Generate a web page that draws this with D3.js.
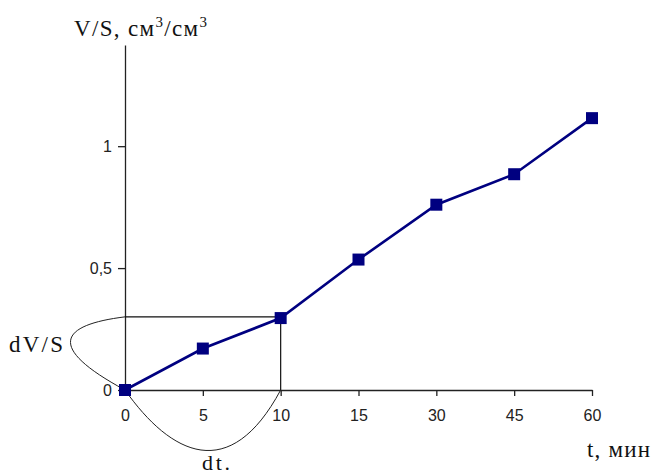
<!DOCTYPE html>
<html>
<head>
<meta charset="utf-8">
<script src="https://cdn.jsdelivr.net/npm/d3@7"></script>
<style>
  body { margin: 0; background: #fff; }
  .tick text { font-family: "Liberation Sans", Arial, sans-serif; font-size: 16px; fill: #222; }
</style>
</head>
<body>
<script>
// data
const tLabels = ["0", "5", "10", "15", "30", "45", "60"];
const vsValues = [0, 0.17, 0.295, 0.535, 0.76, 0.885, 1.115];
const yTicks = [0, 0.5, 1];
const yTickLabels = ["0", "0,5", "1"];
const guideT = "10";
const guideVS = 0.3;

function drawChart() {
  const width = 652, height = 476;
  const serif = "'Liberation Serif', 'Times New Roman', serif";

  const svg = d3.select("body").append("svg")
    .attr("width", width)
    .attr("height", height);

  // scales
  let x = d3.scalePoint().domain(tLabels).range([125, 592]).padding(0);
  let y = d3.scaleLinear().domain([0, 1.415]).range([390, 45]);

  // axes
  svg.append("g")
    .attr("transform", "translate(0," + y(0) + ")")
    .call(d3.axisBottom(x).tickSize(6).tickSizeOuter(0).tickPadding(14))
    .call(g => g.selectAll("path, line").attr("stroke", "#222").attr("stroke-width", 1.3));

  svg.append("g")
    .attr("transform", "translate(" + x("0") + ",0)")
    .call(d3.axisLeft(y).tickValues(yTicks).tickSize(7).tickSizeOuter(0).tickPadding(6)
      .tickFormat((d, i) => yTickLabels[i]))
    .call(g => g.selectAll("path, line").attr("stroke", "#222").attr("stroke-width", 1.3));

  // guide rectangle for dV/S and dt
  const x0 = x("0"), xg = x(guideT), y0 = y(0), yg = y(guideVS);
  svg.append("path")
    .attr("d", "M" + x0 + "," + yg + "H" + xg + "V" + y0)
    .attr("fill", "none").attr("stroke", "#111").attr("stroke-width", 1.2);

  // curly braces
  svg.append("path")
    .attr("d", "M" + x0 + "," + yg +
      "C" + (x0 - 65) + "," + (yg + 8) + " " + (x0 - 80) + "," + (yg + 30) + " " + x0 + "," + y0)
    .attr("fill", "none").attr("stroke", "#222").attr("stroke-width", 1);
  svg.append("path")
    .attr("d", "M" + x0 + "," + y0 +
      "C" + (x0 + 46) + "," + (y0 + 65) + " " + (xg - 51) + "," + (y0 + 95) + " " + xg + "," + y0)
    .attr("fill", "none").attr("stroke", "#222").attr("stroke-width", 1);

  // series line
  const pts = tLabels.map((t, i) => ({ t: t, v: vsValues[i] }));
  let line = d3.line().x(d => x(d.t)).y(d => y(d.v));
  svg.append("path").datum(pts)
    .attr("d", line)
    .attr("fill", "none").attr("stroke", "#000080").attr("stroke-width", 2.6);

  const ms = 12;
  svg.selectAll("rect.marker").data(pts).enter().append("rect")
    .attr("class", "marker")
    .attr("x", d => x(d.t) - ms / 2)
    .attr("y", d => y(d.v) - ms / 2)
    .attr("width", ms).attr("height", ms)
    .attr("fill", "#000080");

  // labels
  const title = svg.append("text")
    .attr("font-family", serif).attr("font-size", 23).attr("fill", "#111")
    .attr("x", 74).attr("y", 36)
    .attr("textLength", 133).attr("lengthAdjust", "spacing");
  title.append("tspan").text("V/S, см");
  title.append("tspan").attr("font-size", 15).attr("dy", -9).text("3");
  title.append("tspan").attr("dy", 9).text("/см");
  title.append("tspan").attr("font-size", 15).attr("dy", -9).text("3");

  svg.append("text")
    .attr("font-family", serif).attr("font-size", 23).attr("fill", "#111")
    .attr("x", 587).attr("y", 457)
    .attr("textLength", 63).attr("lengthAdjust", "spacing")
    .text("t, мин");

  svg.append("text")
    .attr("font-family", serif).attr("font-size", 23).attr("fill", "#111")
    .attr("x", 9).attr("y", 352)
    .attr("textLength", 54).attr("lengthAdjust", "spacing")
    .text("dV/S");

  svg.append("text")
    .attr("font-family", serif).attr("font-size", 22).attr("fill", "#111")
    .attr("x", 202).attr("y", 470)
    .attr("textLength", 28).attr("lengthAdjust", "spacing")
    .text("dt.");
}

window.addEventListener("load", drawChart);
</script>
</body>
</html>
